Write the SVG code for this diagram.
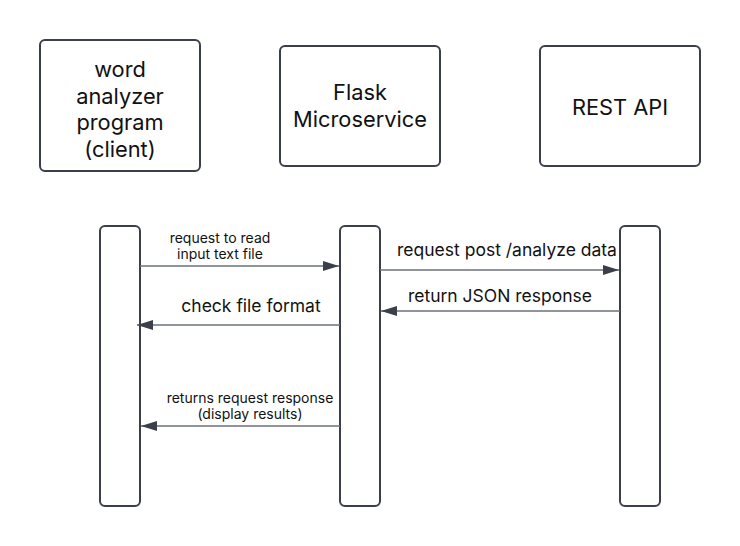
<svg xmlns="http://www.w3.org/2000/svg" width="740" height="546" viewBox="0 0 740 546">
<defs>
<style>
.box{fill:#fff;stroke:#3a3f4a;stroke-width:2}
.t{font-family:Inter,"Liberation Sans",sans-serif;fill:#111;text-anchor:middle}
.big{font-size:21.8px}
.mid{font-size:17.5px}
.sm{font-size:14px}
.msg{stroke:#6b707a;stroke-width:1.5;fill:none}
</style>
<marker id="ah" markerUnits="userSpaceOnUse" markerWidth="17" markerHeight="11" refX="16" refY="5" orient="auto">
<path d="M0,0 L16,5 L0,10 Z" fill="#3a3f4a"/>
</marker>
</defs>
<rect width="740" height="546" fill="#fff"/>
<g id="client">
<rect class="box" x="40" y="40" width="160" height="131" rx="5"/>
<text class="t big" x="120" y="77">word</text>
<text class="t big" x="120" y="104">analyzer</text>
<text class="t big" x="120" y="130">program</text>
<text class="t big" x="120" y="157">(client)</text>
</g>
<g id="flask">
<rect class="box" x="280" y="46" width="160" height="120" rx="5"/>
<text class="t big" x="360" y="100">Flask</text>
<text class="t big" x="360" y="127">Microservice</text>
</g>
<g id="rest">
<rect class="box" x="540" y="46" width="160" height="120" rx="5"/>
<text class="t big" x="620" y="115">REST API</text>
</g>
<g id="client-lifeline"><rect class="box" x="100" y="226" width="40" height="280" rx="5"/></g>
<g id="flask-lifeline"><rect class="box" x="340" y="226" width="40" height="280" rx="5"/></g>
<g id="rest-lifeline"><rect class="box" x="620" y="226" width="40" height="280" rx="5"/></g>
<g id="connectors">
<line class="msg" x1="140" y1="266" x2="339" y2="266" marker-end="url(#ah)"/>
<line class="msg" x1="340" y1="325" x2="137" y2="325" marker-end="url(#ah)"/>
<line class="msg" x1="380" y1="270" x2="619" y2="270" marker-end="url(#ah)"/>
<line class="msg" x1="620" y1="311" x2="381" y2="311" marker-end="url(#ah)"/>
<line class="msg" x1="340" y1="426" x2="141" y2="426" marker-end="url(#ah)"/>
<text class="t sm" x="220" y="243">request to read</text>
<text class="t sm" x="220" y="259">input text file</text>
<text class="t mid" x="251" y="312">check file format</text>
<text class="t mid" x="507" y="256">request post /analyze data</text>
<text class="t mid" x="500" y="302">return JSON response</text>
<text class="t sm" x="250" y="403">returns request response</text>
<text class="t sm" x="250" y="419">(display results)</text>
</g>
</svg>
